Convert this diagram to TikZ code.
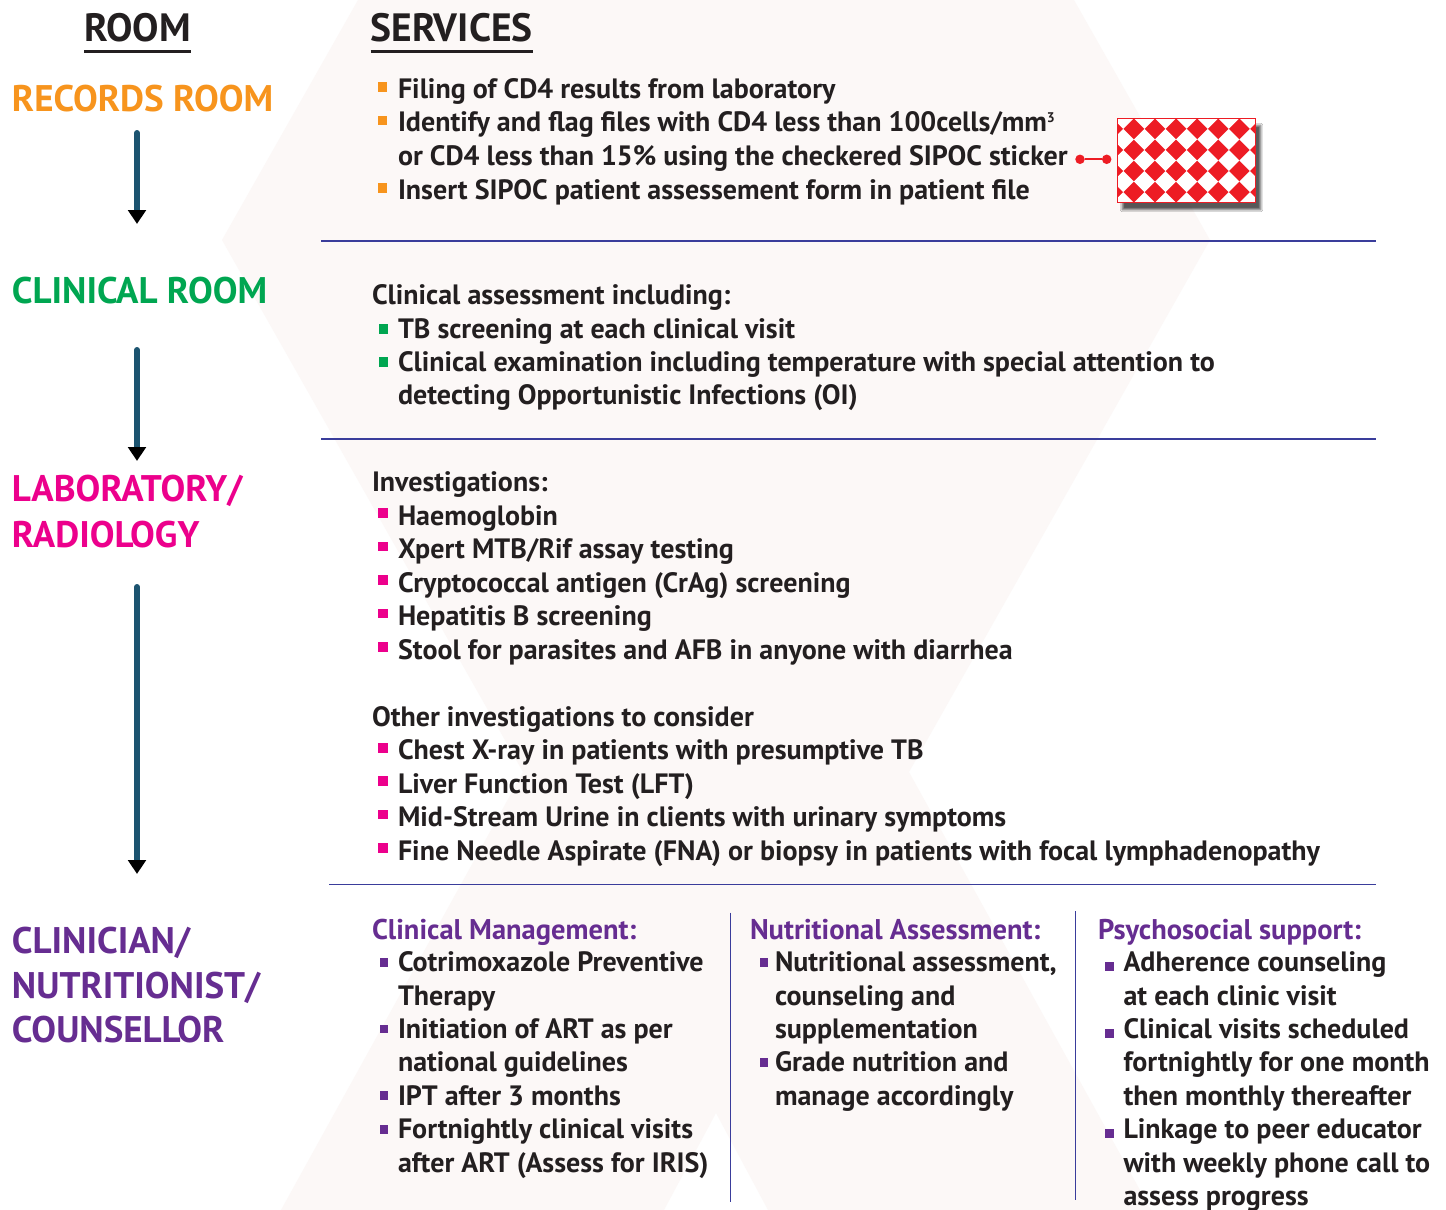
\documentclass[tikz,border=0pt]{standalone}
\usepackage{fontspec}
\setmainfont{PT Sans}
\usetikzlibrary{arrows.meta,shadows.blur}
\definecolor{ink}{HTML}{231F20}
\definecolor{corange}{HTML}{F7941D}
\definecolor{cgreen}{HTML}{00A651}
\definecolor{cmag}{HTML}{EC008C}
\definecolor{cpurp}{HTML}{662D91}
\definecolor{sepblue}{HTML}{3A3D9B}
\definecolor{shaftc}{HTML}{1C5470}
\definecolor{stred}{HTML}{ED1C24}
\definecolor{bgx}{HTML}{FCF8F7}
\newcommand\BodyF{\fontsize{28}{33}\selectfont\bfseries}
\newcommand\RoomF{\fontsize{37}{44}\selectfont\bfseries}
\newcommand\HeadF{\fontsize{39.5}{44}\selectfont\bfseries}
\newcommand\ColF{\fontsize{28.5}{33}\selectfont\bfseries}
\newcommand\BT[4]{\node[body] (#1) at (#2,#3) {#4};}
\newcommand\SQ[5]{\node[sq,fill=#2,minimum size=#5pt] (#1) at (#3,#4) {};}
\begin{document}
\begin{tikzpicture}[x=1pt,y=-1pt,
  body/.style={anchor=base west, inner sep=0pt, outer sep=0pt, text=ink, font=\BodyF},
  room/.style={anchor=base west, inner sep=0pt, outer sep=0pt, font=\RoomF},
  colhead/.style={anchor=base west, inner sep=0pt, outer sep=0pt, text=cpurp, font=\ColF},
  sq/.style={rectangle, inner sep=0pt, outer sep=0pt, draw=none},
  sep/.style={draw=sepblue, line width=1.3pt},
  uline/.style={draw=ink, line width=3pt},
  flow/.style={line width=6pt, draw=shaftc, line cap=round, -{Triangle[width=17.5pt,length=14pt,color=black]}},
  dot/.style={circle, fill=stred, inner sep=0pt, minimum size=9.5pt},
]
\fill[white] (0,0) rectangle (1446,1210);
\useasboundingbox (0,0) rectangle (1446,1210);
% faint X in the background
\fill[bgx] (358,0) -- (1074,0) -- (1210,240) -- (909,772) -- (1151,1210) -- (768,1210) -- (716,1113) -- (664,1210) -- (281,1210) -- (523,772) -- (222,240) -- cycle;

% column headings
\node[room, text=ink, font=\HeadF] (hroom) at (84,41.7) {ROOM};
\node[room, text=ink, font=\HeadF] (hserv) at (370.5,41.7) {SERVICES};
\draw[uline] ([yshift=-10pt]hroom.base west) -- ([yshift=-10pt]hroom.base east);
\draw[uline] ([yshift=-10pt]hserv.base west) -- ([yshift=-10pt]hserv.base east);

% rooms
\node[room, text=corange] (rrec) at (12,111) {RECORDS ROOM};
\node[room, text=cgreen] (rclin) at (12,303.3) {CLINICAL ROOM};
\node[room, text=cmag] (rlab1) at (12,501.7) {LABORATORY/};
\node[room, text=cmag] (rlab2) at (12,547.3) {RADIOLOGY};
\node[room, text=cpurp] (rcn1) at (12,953.3) {CLINICIAN/};
\node[room, text=cpurp] (rcn2) at (12,998.3) {NUTRITIONIST/};
\node[room, text=cpurp] (rcn3) at (12,1042.7) {COUNSELLOR};

% flow arrows
\coordinate (a1s) at (137,133);
\coordinate (a1e) at (137,224);
\coordinate (a2s) at (137,350);
\coordinate (a2e) at (137,461);
\coordinate (a3s) at (137,587);
\coordinate (a3e) at (137,874);
\draw[flow] (a1s) -- (a1e);
\draw[flow] (a2s) -- (a2e);
\draw[flow] (a3s) -- (a3e);

% records room services
\SQ{b11}{corange}{382.5}{87}{9.5}
\BT{t11}{398}{98}{Filing of CD4 results from laboratory}
\SQ{b12}{corange}{382.5}{120.7}{9.5}
\BT{t12}{398}{131.7}{Identify and flag files with CD4 less than 100cells/mm\raisebox{9pt}{\fontsize{14}{14}\selectfont 3}}
\BT{t13}{398}{165.3}{or CD4 less than 15\% using the checkered SIPOC sticker}
\SQ{b14}{corange}{382.5}{188}{9.5}
\BT{t14}{398}{199}{Insert SIPOC patient assessement form in patient file}

% sticker
\node[dot] (d1) at (1080,159.3) {};
\node[dot] (d2) at (1106.7,159.3) {};
\draw[stred, line width=2.2pt] (d1) -- (d2);
\node[rectangle, fill=stred, inner sep=0pt, minimum width=138.4pt, minimum height=84.4pt,
      blur shadow={shadow xshift=5pt, shadow yshift=-7pt, shadow blur steps=10, shadow opacity=65}]
      (stk) at (1186.5,160.5) {};
\begin{scope}
  \clip (stk.south west) rectangle (stk.north east);
  \foreach \a in {0,...,7}{
    \foreach \b in {0,...,4}{
      \pgfmathsetmacro\cx{1117.3+6+21.1*\a}
      \pgfmathsetmacro\cy{118.3+21.1*\b}
      \fill[white] (\cx-10.55,\cy) -- (\cx,\cy-10.55) -- (\cx+10.55,\cy) -- (\cx,\cy+10.55) -- cycle;
    }
  }
\end{scope}
\draw[stred, line width=1pt] (stk.south west) rectangle (stk.north east);

\draw[sep] (321,241) coordinate (s1a) -- (1376,241) coordinate (s1b);

% clinical room services
\BT{t20}{372}{304.5}{Clinical assessment including:}
\SQ{b21}{cgreen}{383.3}{329}{9.5}
\BT{t21}{398}{338}{TB screening at each clinical visit}
\SQ{b22}{cgreen}{383.3}{362}{9.5}
\BT{t22}{398}{371.4}{Clinical examination including temperature with special attention to}
\BT{t23}{398}{404.8}{detecting Opportunistic Infections (OI)}

\draw[sep] (321,439) coordinate (s2a) -- (1376,439) coordinate (s2b);

% laboratory services
\BT{t30}{372}{491}{Investigations:}
\SQ{b31}{cmag}{382.8}{513}{9.5}
\BT{t31}{398}{525}{Haemoglobin}
\SQ{b32}{cmag}{382.8}{546.5}{9.5}
\BT{t32}{398}{558.5}{Xpert MTB/Rif assay testing}
\SQ{b33}{cmag}{382.8}{580}{9.5}
\BT{t33}{398}{592}{Cryptococcal antigen (CrAg) screening}
\SQ{b34}{cmag}{382.8}{613.5}{9.5}
\BT{t34}{398}{625.5}{Hepatitis B screening}
\SQ{b35}{cmag}{382.8}{647}{9.5}
\BT{t35}{398}{659}{Stool for parasites and AFB in anyone with diarrhea}
\BT{t36}{372}{726.4}{Other investigations to consider}
\SQ{b37}{cmag}{382.8}{747.8}{9.5}
\BT{t37}{398}{759.8}{Chest X-ray in patients with presumptive TB}
\SQ{b38}{cmag}{382.8}{781.2}{9.5}
\BT{t38}{398}{793.2}{Liver Function Test (LFT)}
\SQ{b39}{cmag}{382.8}{814.6}{9.5}
\BT{t39}{398}{826.6}{Mid-Stream Urine in clients with urinary symptoms}
\SQ{b310}{cmag}{382.8}{848}{9.5}
\BT{t310}{398}{860}{Fine Needle Aspirate (FNA) or biopsy in patients with focal lymphadenopathy}

\draw[sep] (329,884.6) coordinate (s3a) -- (1376,884.6) coordinate (s3b);
\draw[sep, line width=1.2pt] (730.7,912.6) coordinate (v1a) -- (730.7,1202) coordinate (v1b);
\draw[sep, line width=1.2pt] (1075.8,911) coordinate (v2a) -- (1075.8,1200) coordinate (v2b);

% clinician column 1
\node[colhead] (c1h) at (372,939) {Clinical Management:};
\SQ{b41}{cpurp}{384}{962.1}{8.8}
\BT{t41}{398}{971.6}{Cotrimoxazole Preventive}
\BT{t42}{398}{1005}{Therapy}
\SQ{b43}{cpurp}{384}{1028.9}{8.8}
\BT{t43}{398}{1038.4}{Initiation of ART as per}
\BT{t44}{398}{1071.8}{national guidelines}
\SQ{b45}{cpurp}{384}{1095.7}{8.8}
\BT{t45}{398}{1105.2}{IPT after 3 months}
\SQ{b46}{cpurp}{384}{1129.1}{8.8}
\BT{t46}{398}{1138.6}{Fortnightly clinical visits}
\BT{t47}{398}{1172}{after ART (Assess for IRIS)}

% column 2
\node[colhead] (c2h) at (750,939) {Nutritional Assessment:};
\SQ{b51}{cpurp}{764}{962.1}{8.8}
\BT{t51}{775}{971.6}{Nutritional assessment,}
\BT{t52}{775}{1005}{counseling and}
\BT{t53}{775}{1038.4}{supplementation}
\SQ{b54}{cpurp}{764}{1062.3}{8.8}
\BT{t54}{775}{1071.8}{Grade nutrition and}
\BT{t55}{775}{1105.2}{manage accordingly}

% column 3
\node[colhead] (c3h) at (1098,939) {Psychosocial support:};
\SQ{b61}{cpurp}{1109.3}{966.6}{8.8}
\BT{t61}{1123.5}{971.6}{Adherence counseling}
\BT{t62}{1123.5}{1005}{at each clinic visit}
\SQ{b63}{cpurp}{1109.3}{1033.4}{8.8}
\BT{t63}{1123.5}{1038.4}{Clinical visits scheduled}
\BT{t64}{1123.5}{1071.8}{fortnightly for one month}
\BT{t65}{1123.5}{1105.2}{then monthly thereafter}
\SQ{b66}{cpurp}{1109.3}{1133.6}{8.8}
\BT{t66}{1123.5}{1138.6}{Linkage to peer educator}
\BT{t67}{1123.5}{1172}{with weekly phone call to}
\BT{t68}{1123.5}{1205.4}{assess progress}
\end{tikzpicture}
\end{document}
